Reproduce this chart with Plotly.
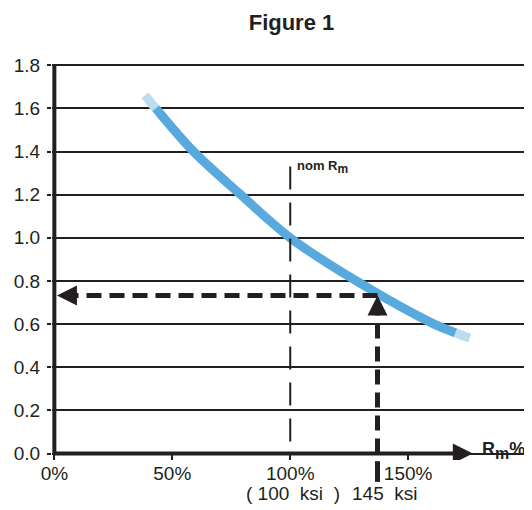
import plotly.graph_objects as go

# values
rm_pct = [38.5, 43, 59, 79, 100, 128, 161, 170, 176]          # R_m in % of nominal
ratio = [1.66, 1.60, 1.40, 1.20, 1.00, 0.80, 0.60, 0.56, 0.535]

y_ticks = [0.0, 0.2, 0.4, 0.6, 0.8, 1.0, 1.2, 1.4, 1.6, 1.8]
x_ticks = [0, 50, 100, 150]
x_tick_text = ["0%", "50%", "100%", "150%"]

nominal_pct = 100
nominal_top = 1.33
actual_pct = 137
actual_ratio = 0.733
axis_end = 177.4

INK = "#231f20"
BLUE = "#58a9de"
FONT = "Liberation Sans, Arial, sans-serif"

fig = go.Figure()

# blue band
fig.add_trace(go.Scatter(
    x=rm_pct, y=ratio, mode="lines",
    line=dict(color=BLUE, width=9, shape="spline"),
))
# faded ends
for seg in (slice(0, 2), slice(-2, None)):
    fig.add_trace(go.Scatter(
        x=rm_pct[seg], y=ratio[seg], mode="lines",
        line=dict(color="rgba(255,255,255,0.6)", width=10),
    ))

# axes drawn by hand (thick lines + arrow)
fig.add_trace(go.Scatter(x=[0, 0], y=[0, y_ticks[-1]], mode="lines",
                         line=dict(color=INK, width=4)))
fig.add_trace(go.Scatter(x=[0, axis_end - 3], y=[0, 0], mode="lines",
                         line=dict(color=INK, width=4)))
fig.add_trace(go.Scatter(x=[axis_end], y=[0], mode="markers",
                         marker=dict(symbol="arrow-right", size=20, color=INK)))

# nominal R_m reference line
fig.add_trace(go.Scatter(x=[nominal_pct, nominal_pct], y=[nominal_top, 0], mode="lines",
                         line=dict(color=INK, width=2, dash="23px,13px")))

# read-off arrows
fig.add_trace(go.Scatter(x=[actual_pct, 4], y=[actual_ratio, actual_ratio], mode="lines",
                         line=dict(color=INK, width=5, dash="15px,8px")))
fig.add_trace(go.Scatter(x=[actual_pct, actual_pct], y=[0, actual_ratio - 0.04], mode="lines",
                         line=dict(color=INK, width=5, dash="15px,8px")))
fig.add_trace(go.Scatter(x=[1.1], y=[actual_ratio], mode="markers",
                         marker=dict(symbol="arrow-left", size=20, color=INK)))
fig.add_trace(go.Scatter(x=[actual_pct], y=[actual_ratio], mode="markers",
                         marker=dict(symbol="arrow-up", size=20, color=INK)))

# stub of the dashed line below the x axis
fig.add_shape(type="line", xref="x", yref="paper",
              x0=actual_pct, x1=actual_pct, y0=-0.055, y1=-0.003,
              line=dict(color=INK, width=5))

fig.add_annotation(x=nominal_pct, y=nominal_top, xref="x", yref="y",
                   text="<b>nom R<sub><span style='font-size:12px'>m</span></sub></b>",
                   showarrow=False, xanchor="left", yanchor="middle", xshift=5,
                   font=dict(size=13, color=INK, family=FONT))
fig.add_annotation(x=180.5, y=0.015, xref="x", yref="y",
                   text="<b>R<sub><span style='font-size:16px'>m</span></sub>%</b>",
                   showarrow=False, xanchor="left", yanchor="middle",
                   font=dict(size=18, color=INK, family=FONT))
fig.add_annotation(x=101.3, y=-0.085, xref="x", yref="paper",
                   text="(\u00a0100\u00a0\u00a0ksi\u00a0\u00a0)", showarrow=False,
                   xanchor="center", yanchor="middle",
                   font=dict(size=19, color=INK, family=FONT))
fig.add_annotation(x=140, y=-0.085, xref="x", yref="paper",
                   text="145\u00a0\u00a0ksi", showarrow=False,
                   xanchor="center", yanchor="middle",
                   font=dict(size=19, color=INK, family=FONT))

# the page body adds an 8 px margin, so the figure is 8 px smaller each way
fig.update_layout(
    width=524, height=502,
    margin=dict(l=44, r=0, t=54, b=50),
    paper_bgcolor="white", plot_bgcolor="white",
    showlegend=False, hovermode=False,
    font=dict(family=FONT, color=INK, size=19),
    title=dict(text="<b>Figure 1</b>", x=0.541, xanchor="center",
               y=0.972, yanchor="middle", font=dict(size=22, color=INK)),
    xaxis=dict(range=[-1, 202.5], tickvals=x_ticks, ticktext=x_tick_text,
               ticks="inside", ticklen=7, tickwidth=2, tickcolor=INK,
               showgrid=False, zeroline=False, showline=False,
               tickfont=dict(size=19)),
    yaxis=dict(range=[-0.03, 1.815], tickvals=y_ticks, tickformat=".1f",
               ticks="outside", ticklen=4, tickwidth=2, tickcolor=INK,
               showgrid=True, gridcolor=INK, gridwidth=2,
               zeroline=False, showline=False, ticklabelstandoff=3,
               tickfont=dict(size=19)),
)

fig.write_html("out.html")
